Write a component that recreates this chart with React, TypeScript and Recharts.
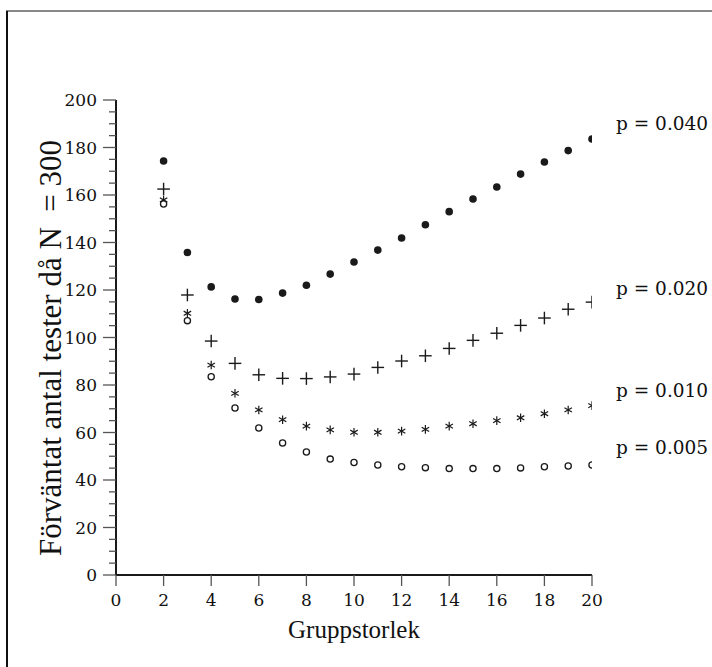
import React from 'react';
import { ScatterChart, Scatter, XAxis, YAxis, ReferenceDot } from 'recharts';

// Group size (Gruppstorlek)
const groupSizes = [2, 3, 4, 5, 6, 7, 8, 9, 10, 11, 12, 13, 14, 15, 16, 17, 18, 19, 20];

// Expected number of tests when N = 300
const p040 = [174.3, 135.8, 121.3, 116.2, 116.0, 118.7, 122.0, 126.7, 131.8, 136.8, 141.9, 147.5, 153.0, 158.3, 163.4, 168.8, 173.9, 178.7, 183.6];
const p020 = [162.5, 117.9, 98.5, 89.1, 84.3, 82.8, 82.7, 83.4, 84.6, 87.4, 90.1, 92.3, 95.4, 98.8, 101.8, 105.1, 108.2, 111.9, 114.9];
const p010 = [157.9, 110.2, 88.4, 76.5, 69.5, 65.4, 62.7, 61.1, 60.1, 60.1, 60.6, 61.3, 62.7, 63.7, 65.0, 66.2, 67.9, 69.5, 71.3];
const p005 = [156.2, 107.1, 83.5, 70.3, 61.9, 55.6, 51.8, 48.8, 47.4, 46.3, 45.6, 45.2, 44.8, 44.8, 44.8, 45.1, 45.6, 45.9, 46.3];

const seriesNames = ['p = 0.040', 'p = 0.020', 'p = 0.010', 'p = 0.005'];

const xTicks = [0, 2, 4, 6, 8, 10, 12, 14, 16, 18, 20];
const yTicks = Array.from({ length: 41 }, (_, i) => i * 5);

const xLabel = 'Gruppstorlek';
const yLabel = 'Förväntat antal tester då N\u00a0\u00a0= 300';

const toData = (vals: number[]) => groupSizes.map((k, i) => ({ k, v: vals[i] }));

const INK = '#1a1a1a';
const TICK_FONT = '"DejaVu Serif", serif';

type Kind = 'dot' | 'plus' | 'star' | 'ring';

const Marker = ({ cx, cy, kind }: { cx: number; cy: number; kind: Kind }) => {
  if (cx == null || cy == null) return null;
  if (kind === 'dot') return <circle cx={cx} cy={cy} r={3.8} fill={INK} />;
  if (kind === 'ring')
    return <circle cx={cx} cy={cy} r={3.1} fill="#fff" stroke={INK} strokeWidth={1.3} />;
  if (kind === 'plus') {
    const s = 6.3;
    return (
      <g stroke={INK} strokeWidth={1.4}>
        <line x1={cx - s} y1={cy} x2={cx + s} y2={cy} />
        <line x1={cx} y1={cy - s} x2={cx} y2={cy + s} />
      </g>
    );
  }
  const r = 4.3;
  const c = Math.cos(Math.PI / 6) * r;
  const sn = Math.sin(Math.PI / 6) * r;
  return (
    <g stroke={INK} strokeWidth={1.2}>
      <line x1={cx} y1={cy - r} x2={cx} y2={cy + r} />
      <line x1={cx - c} y1={cy - sn} x2={cx + c} y2={cy + sn} />
      <line x1={cx - c} y1={cy + sn} x2={cx + c} y2={cy - sn} />
    </g>
  );
};

const series: { name: string; vals: number[]; kind: Kind; labelDy: number }[] = [
  { name: seriesNames[0], vals: p040, kind: 'dot', labelDy: -9 },
  { name: seriesNames[1], vals: p020, kind: 'plus', labelDy: -7 },
  { name: seriesNames[2], vals: p010, kind: 'star', labelDy: -9 },
  { name: seriesNames[3], vals: p005, kind: 'ring', labelDy: -11 },
];

const YTick = (props: any) => {
  const { x, y, payload } = props;
  const v = payload.value;
  const major = v % 20 === 0;
  return (
    <g>
      <line x1={x - (major ? 13 : 7)} y1={y} x2={x} y2={y} stroke="#555" strokeWidth={1.3} />
      {major && (
        <text
          x={x - 19}
          y={y}
          textAnchor="end"
          dominantBaseline="central"
          fontFamily={TICK_FONT}
          fontSize={17}
          fill="#111"
        >
          {v}
        </text>
      )}
    </g>
  );
};

export default function App() {
  return (
    <div style={{ position: 'absolute', left: 0, top: 0, width: 712, height: 667, background: '#fff' }}>
      <div style={{ position: 'absolute', left: 6, top: 10, width: 706, height: 2, background: '#888' }} />
      <div style={{ position: 'absolute', left: 6, top: 11, width: 1.5, height: 656, background: '#111' }} />
      <ScatterChart width={712} height={667} margin={{ top: 100, right: 120, bottom: 52, left: 56 }}>
        <XAxis
          type="number"
          dataKey="k"
          domain={[0, 20]}
          ticks={xTicks}
          interval={0}
          axisLine={{ stroke: INK, strokeWidth: 2 }}
          tickLine={{ stroke: '#555', strokeWidth: 1.3 }}
          tickSize={11}
          tickMargin={8}
          tick={{ fontFamily: TICK_FONT, fontSize: 17, fill: '#111' }}
          height={40}
          allowDataOverflow
        />
        <YAxis
          type="number"
          dataKey="v"
          domain={[0, 200]}
          ticks={yTicks}
          interval={0}
          axisLine={{ stroke: INK, strokeWidth: 2 }}
          tickLine={false}
          tickSize={0}
          tickMargin={0}
          tick={<YTick />}
          width={60}
          allowDataOverflow
        />
        {series.map((s) => (
          <Scatter
            key={s.name}
            name={s.name}
            data={toData(s.vals)}
            isAnimationActive={false}
            shape={(p: any) => <Marker cx={p.cx} cy={p.cy} kind={s.kind} />}
          />
        ))}
        {series.map((s) => (
          <ReferenceDot
            key={'lbl' + s.name}
            x={groupSizes[groupSizes.length - 1]}
            y={s.vals[s.vals.length - 1]}
            r={0}
            fill="none"
            stroke="none"
            ifOverflow="visible"
            label={(lp: any) => (
              <text
                x={lp.viewBox.x + 24}
                y={lp.viewBox.y + s.labelDy}
                fontFamily={TICK_FONT}
                fontSize={18.5}
                fill="#111"
              >
                {s.name}
              </text>
            )}
          />
        ))}
      </ScatterChart>
      <svg
        width={712}
        height={667}
        style={{ position: 'absolute', left: 0, top: 0, pointerEvents: 'none' }}
      >
        <text
          x={354}
          y={638}
          textAnchor="middle"
          fontFamily='"Liberation Serif", serif'
          fontSize={25}
          fill="#111"
        >
          {xLabel}
        </text>
        <text
          transform="translate(60.5 348) rotate(-90)"
          textAnchor="middle"
          fontFamily='"Liberation Serif", serif'
          fontSize={31}
          fill="#111"
        >
          {yLabel}
        </text>
      </svg>
    </div>
  );
}
